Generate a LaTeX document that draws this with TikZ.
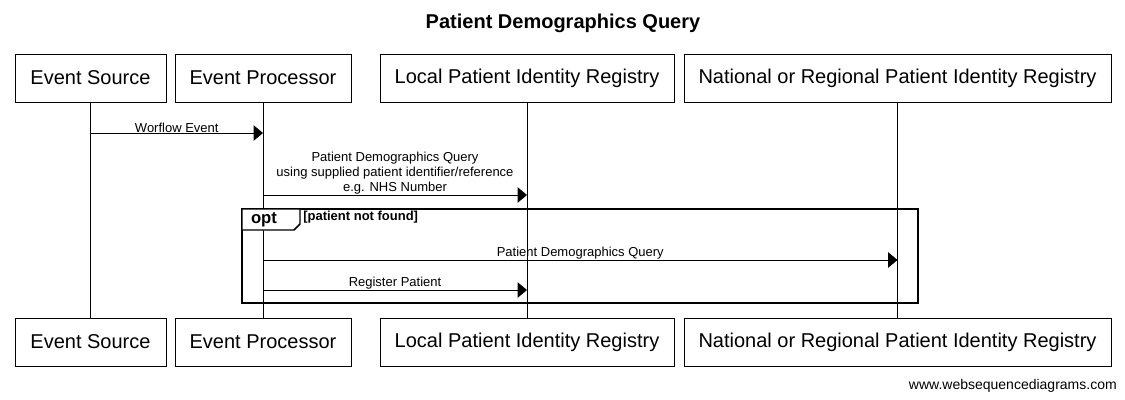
\documentclass[tikz,border=0pt]{standalone}
\usepackage{fontspec}
\setmainfont{Liberation Sans}
\usetikzlibrary{arrows.meta}
\begin{document}
\begin{tikzpicture}[x=0.75pt,y=-0.75pt,
  actor/.style={draw, line width=0.75pt, minimum height=36pt, inner sep=0pt, font=\fontsize{15}{18}\selectfont},
  life/.style={line width=0.75pt},
  msg/.style={line width=0.75pt, -{Triangle[length=7pt, width=11.5pt]}},
  lbl/.style={font=\fontsize{9.75}{11.25}\selectfont, align=center, inner sep=0pt},
  frame/.style={line width=1.5pt}]
\useasboundingbox (0,0) rectangle (1125,400);
\node[font=\bfseries\fontsize{15}{18}\selectfont] (title) at (563,23.5) {Patient Demographics Query};
% top actors
\node[actor, minimum width=113.25pt] (es) at (90.5,78) {Event Source};
\node[actor, minimum width=132pt] (ep) at (263,78) {Event Processor};
\node[actor, minimum width=220.5pt] (lp) at (527,78) {Local Patient Identity Registry};
\node[actor, minimum width=320.25pt] (np) at (897.5,78) {National or Regional Patient Identity Registry};
% bottom actors
\node[actor, minimum width=113.25pt] (esb) at (90.5,342) {Event Source};
\node[actor, minimum width=132pt] (epb) at (263,342) {Event Processor};
\node[actor, minimum width=220.5pt] (lpb) at (527,342) {Local Patient Identity Registry};
\node[actor, minimum width=320.25pt] (npb) at (897.5,342) {National or Regional Patient Identity Registry};
% lifelines
\draw[life] (es.south) -- (esb.north);
\draw[life] (ep.south) -- (epb.north);
\draw[life] (lp.south) -- (lpb.north);
\draw[life] (np.south) -- (npb.north);
% rows
\coordinate (r1) at (0,133);
\coordinate (r2) at (0,195);
\coordinate (r3) at (0,260);
\coordinate (r4) at (0,290);
\draw[msg] (es |- r1) -- node[lbl, above] {Worflow Event} (ep |- r1);
\draw[msg] (ep |- r2) -- node[lbl, above] {Patient Demographics Query\\ using supplied patient identifier/reference\\ e.g. NHS Number} (lp |- r2);
\draw[msg] (ep |- r3) -- node[lbl, above] {Patient Demographics Query} (np |- r3);
\draw[msg] (ep |- r4) -- node[lbl, above] {Register Patient} (lp |- r4);
% opt frame
\coordinate (f1) at (242,209);
\coordinate (f2) at (918,303);
\draw[frame] (f1) rectangle (f2);
\draw[line width=1.1pt, fill=white] (f1) -- (300,209) -- (300,224) -- (294,230) -- (242,230) -- cycle;
\node[font=\bfseries\fontsize{12.5}{14}\selectfont, inner sep=0pt] (opt) at (264,220) {opt};
\node[font=\bfseries\fontsize{9.75}{11}\selectfont, anchor=west, inner sep=0pt] (cond) at (303,217) {[patient not found]};
\node[font=\fontsize{10.5}{12}\selectfont, anchor=east, inner sep=0pt] (wm) at (1117,386) {www.websequencediagrams.com};
\end{tikzpicture}
\end{document}
